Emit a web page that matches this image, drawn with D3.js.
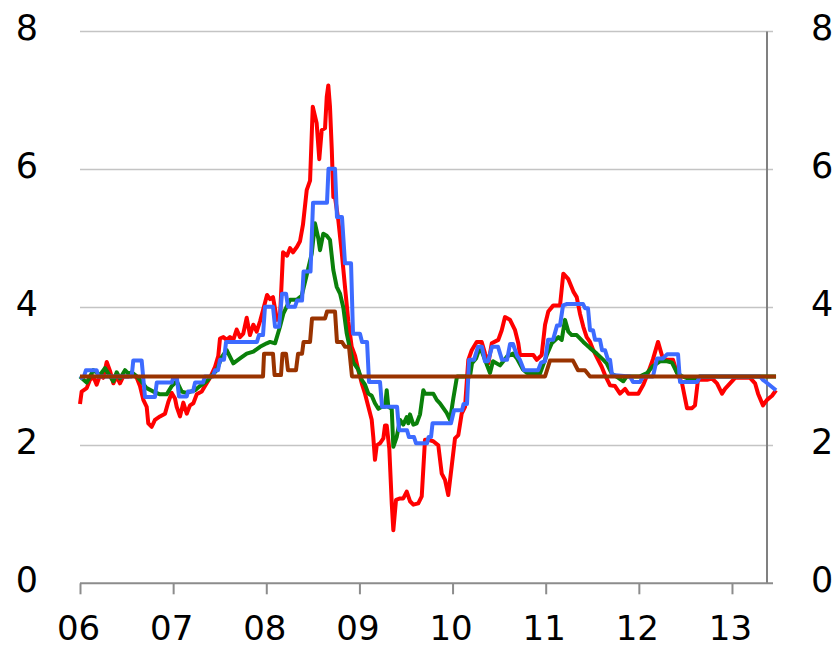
<!DOCTYPE html>
<html>
<head>
<meta charset="utf-8">
<script src="https://cdn.jsdelivr.net/npm/d3@7/dist/d3.min.js"></script>
<style>
  html, body { margin: 0; padding: 0; background: #ffffff; }
  svg { display: block; }
  text { font-family: "DejaVu Sans", Verdana, sans-serif; fill: #000; }
</style>
</head>
<body>
<svg id="chart" width="837" height="649"></svg>
<script>
// Axis ticks and labels
const yTicks = [0, 2, 4, 6, 8];
const yearTicks = [2006, 2007, 2008, 2009, 2010, 2011, 2012, 2013];
const yearLabels = ["06", "07", "08", "09", "10", "11", "12", "13"];

// Series: [decimal year, value]
const redSeries = [
  [2006.000,2.60],[2006.018,2.78],[2006.072,2.83],[2006.107,2.95],[2006.143,3.00],[2006.179,2.88],
  [2006.215,3.02],[2006.250,2.98],[2006.287,3.21],[2006.322,3.08],[2006.358,2.90],[2006.394,3.00],
  [2006.429,2.90],[2006.465,3.00],[2006.519,3.00],[2006.555,3.05],[2006.609,2.98],[2006.644,2.86],
  [2006.680,2.66],[2006.716,2.56],[2006.733,2.32],[2006.770,2.27],[2006.805,2.37],[2006.859,2.42],
  [2006.913,2.46],[2006.948,2.63],[2006.985,2.76],[2007.020,2.68],[2007.038,2.56],[2007.074,2.42],
  [2007.109,2.62],[2007.146,2.46],[2007.181,2.58],[2007.217,2.61],[2007.253,2.74],[2007.307,2.78],
  [2007.342,2.86],[2007.396,2.98],[2007.450,3.14],[2007.485,3.30],[2007.503,3.55],[2007.539,3.57],
  [2007.575,3.53],[2007.610,3.57],[2007.646,3.53],[2007.682,3.68],[2007.718,3.57],[2007.753,3.62],
  [2007.790,3.85],[2007.825,3.60],[2007.861,3.75],[2007.897,3.65],[2007.933,3.80],[2007.965,3.96],
  [2008.008,4.18],[2008.040,4.12],[2008.072,4.15],[2008.115,3.82],[2008.147,3.85],[2008.180,4.80],
  [2008.223,4.75],[2008.255,4.86],[2008.287,4.80],[2008.330,4.88],[2008.362,4.96],[2008.394,5.20],
  [2008.434,5.70],[2008.470,5.84],[2008.499,6.91],[2008.541,6.67],[2008.569,6.15],[2008.595,6.57],
  [2008.631,6.60],[2008.649,7.05],[2008.666,7.22],[2008.684,6.91],[2008.703,6.30],[2008.720,5.60],
  [2008.738,5.60],[2008.773,5.27],[2008.810,4.80],[2008.845,4.30],[2008.881,3.80],[2008.917,3.43],
  [2008.953,3.30],[2008.988,3.09],[2009.025,2.90],[2009.060,2.75],[2009.096,2.56],[2009.132,2.37],
  [2009.149,2.12],[2009.167,1.79],[2009.186,2.00],[2009.221,2.03],[2009.257,2.10],[2009.275,2.29],
  [2009.293,2.29],[2009.321,1.95],[2009.347,1.16],[2009.364,0.77],[2009.393,1.21],[2009.436,1.23],
  [2009.471,1.23],[2009.508,1.33],[2009.543,1.19],[2009.579,1.14],[2009.632,1.16],[2009.669,1.26],
  [2009.704,2.08],[2009.740,2.08],[2009.793,2.06],[2009.847,2.00],[2009.884,1.59],[2009.919,1.50],
  [2009.954,1.28],[2009.991,1.70],[2010.026,2.10],[2010.062,2.15],[2010.098,2.46],[2010.134,2.56],
  [2010.169,3.24],[2010.206,3.38],[2010.259,3.50],[2010.313,3.50],[2010.349,3.33],[2010.384,3.19],
  [2010.421,3.48],[2010.491,3.53],[2010.528,3.67],[2010.563,3.86],[2010.617,3.82],[2010.671,3.67],
  [2010.706,3.48],[2010.724,3.31],[2010.778,3.31],[2010.867,3.31],[2010.904,3.24],[2010.957,3.31],
  [2010.993,3.75],[2011.028,3.94],[2011.082,4.03],[2011.154,4.03],[2011.189,4.49],[2011.243,4.41],
  [2011.297,4.23],[2011.333,4.15],[2011.368,3.91],[2011.404,3.72],[2011.440,3.57],[2011.476,3.50],
  [2011.511,3.38],[2011.548,3.28],[2011.601,3.14],[2011.637,3.02],[2011.691,2.87],[2011.744,2.86],
  [2011.798,2.75],[2011.852,2.82],[2011.887,2.75],[2011.941,2.75],[2011.994,2.75],[2012.048,2.88],
  [2012.099,3.05],[2012.152,3.25],[2012.206,3.50],[2012.249,3.30],[2012.281,3.24],[2012.367,3.24],
  [2012.410,3.05],[2012.464,2.90],[2012.496,2.68],[2012.517,2.54],[2012.571,2.54],[2012.603,2.58],
  [2012.635,2.95],[2012.732,2.95],[2012.786,2.97],[2012.839,2.90],[2012.893,2.75],[2012.925,2.82],
  [2012.979,2.90],[2013.033,2.98],[2013.194,2.98],[2013.248,2.90],[2013.280,2.75],[2013.333,2.58],
  [2013.376,2.66],[2013.430,2.72],[2013.473,2.80]
];

const greenSeries = [
  [2006.000,3.00],[2006.072,2.91],[2006.143,3.09],[2006.215,3.02],[2006.268,3.12],[2006.322,3.00],
  [2006.358,2.93],[2006.394,3.06],[2006.429,2.97],[2006.483,3.09],[2006.519,3.04],[2006.555,3.06],
  [2006.609,3.00],[2006.644,2.95],[2006.716,2.83],[2006.787,2.78],[2006.859,2.74],[2006.931,2.74],
  [2006.985,2.86],[2007.038,2.93],[2007.092,2.78],[2007.146,2.76],[2007.235,2.80],[2007.288,2.86],
  [2007.360,2.93],[2007.414,3.01],[2007.468,3.09],[2007.521,3.28],[2007.575,3.38],[2007.646,3.19],
  [2007.718,3.26],[2007.790,3.33],[2007.861,3.36],[2007.933,3.43],[2008.005,3.48],[2008.040,3.50],
  [2008.094,3.48],[2008.147,3.72],[2008.183,3.91],[2008.255,4.11],[2008.327,4.11],[2008.380,4.17],
  [2008.434,4.47],[2008.488,4.78],[2008.523,5.22],[2008.559,5.00],[2008.577,4.83],[2008.612,5.07],
  [2008.649,5.04],[2008.684,4.98],[2008.720,4.54],[2008.756,4.30],[2008.792,4.20],[2008.827,4.00],
  [2008.864,3.62],[2008.899,3.40],[2008.935,3.20],[2008.988,3.10],[2009.025,2.95],[2009.060,2.88],
  [2009.096,2.75],[2009.132,2.72],[2009.167,2.61],[2009.203,2.53],[2009.239,2.56],[2009.275,2.56],
  [2009.293,2.80],[2009.310,2.56],[2009.347,2.53],[2009.364,1.98],[2009.400,2.12],[2009.436,2.37],
  [2009.471,2.30],[2009.508,2.41],[2009.525,2.32],[2009.543,2.45],[2009.579,2.30],[2009.615,2.32],
  [2009.651,2.45],[2009.686,2.80],[2009.704,2.75],[2009.740,2.75],[2009.793,2.75],[2009.830,2.66],
  [2009.865,2.61],[2009.901,2.54],[2009.937,2.47],[2009.973,2.37],[2010.008,2.68],[2010.048,3.00],
  [2010.187,3.00],[2010.209,3.19],[2010.252,3.26],[2010.295,3.43],[2010.348,3.24],[2010.402,3.05],
  [2010.434,3.22],[2010.510,3.16],[2010.585,3.29],[2010.649,3.33],[2010.692,3.26],[2010.756,3.10],
  [2010.799,3.05],[2010.939,3.04],[2011.011,3.31],[2011.065,3.48],[2011.136,3.57],[2011.172,3.53],
  [2011.207,3.82],[2011.243,3.65],[2011.279,3.60],[2011.333,3.60],[2011.404,3.50],[2011.476,3.41],
  [2011.548,3.33],[2011.619,3.24],[2011.655,3.19],[2011.709,3.04],[2011.780,2.98],[2011.833,2.93],
  [2011.870,3.00],[2012.013,3.00],[2012.088,3.05],[2012.152,3.15],[2012.227,3.22],[2012.303,3.22],
  [2012.356,3.20],[2012.410,3.05],[2012.464,3.00],[2012.571,2.95],[2012.657,3.00],[2013.473,3.00]
];

const blueSeries = [
  [2006.000,2.97],[2006.043,3.00],[2006.064,3.09],[2006.179,3.09],[2006.196,3.00],[2006.555,3.00],
  [2006.572,3.23],[2006.662,3.23],[2006.698,2.70],[2006.805,2.70],[2006.824,2.91],[2006.985,2.91],
  [2006.999,2.97],[2007.041,2.97],[2007.063,2.71],[2007.146,2.71],[2007.160,2.78],[2007.213,2.78],
  [2007.235,2.91],[2007.321,2.91],[2007.342,3.00],[2007.428,3.00],[2007.450,3.09],[2007.482,3.09],
  [2007.503,3.24],[2007.546,3.24],[2007.568,3.50],[2007.900,3.50],[2007.922,3.60],[2007.965,3.60],
  [2007.986,4.01],[2008.072,4.01],[2008.094,3.72],[2008.137,3.72],[2008.169,4.20],[2008.212,4.20],
  [2008.233,4.01],[2008.308,4.01],[2008.330,4.10],[2008.384,4.10],[2008.400,4.52],[2008.475,4.52],
  [2008.502,5.52],[2008.652,5.52],[2008.668,6.01],[2008.738,6.01],[2008.759,5.31],[2008.813,5.31],
  [2008.845,4.64],[2008.910,4.64],[2008.931,3.62],[2009.006,3.62],[2009.028,3.50],[2009.082,3.50],
  [2009.103,2.92],[2009.221,2.92],[2009.243,2.56],[2009.404,2.56],[2009.425,2.22],[2009.511,2.22],
  [2009.532,2.12],[2009.586,2.12],[2009.608,2.03],[2009.726,2.03],[2009.742,2.12],[2009.769,2.12],
  [2009.785,2.32],[2009.983,2.32],[2010.016,2.51],[2010.102,2.51],[2010.118,2.60],[2010.155,2.60],
  [2010.177,3.24],[2010.230,3.24],[2010.273,3.43],[2010.316,3.43],[2010.348,3.22],[2010.381,3.22],
  [2010.424,3.43],[2010.488,3.43],[2010.531,3.24],[2010.585,3.24],[2010.617,3.47],[2010.649,3.47],
  [2010.692,3.30],[2010.724,3.24],[2010.767,3.09],[2010.918,3.09],[2010.950,3.20],[2010.993,3.22],
  [2011.025,3.53],[2011.079,3.53],[2011.122,3.74],[2011.154,3.74],[2011.186,4.03],[2011.229,4.05],
  [2011.401,4.05],[2011.422,3.99],[2011.454,3.99],[2011.476,3.67],[2011.508,3.67],[2011.530,3.53],
  [2011.583,3.53],[2011.605,3.38],[2011.637,3.38],[2011.669,3.24],[2011.691,3.24],[2011.712,3.02],
  [2011.905,3.00],[2011.938,2.92],[2012.013,2.92],[2012.045,3.00],[2012.152,3.00],[2012.195,3.26],
  [2012.260,3.26],[2012.303,3.32],[2012.421,3.32],[2012.442,2.92],[2012.625,2.92],[2012.657,3.00],
  [2013.301,3.00],[2013.333,2.95],[2013.473,2.80]
];

const brownSeries = [
  [2006.000,3.00],[2007.965,3.00],[2007.976,3.33],[2008.072,3.33],[2008.089,3.02],[2008.158,3.02],
  [2008.174,3.33],[2008.212,3.33],[2008.233,3.09],[2008.319,3.09],[2008.341,3.33],[2008.384,3.33],
  [2008.400,3.50],[2008.470,3.50],[2008.491,3.84],[2008.631,3.84],[2008.652,3.94],[2008.738,3.94],
  [2008.759,3.50],[2008.813,3.50],[2008.845,3.43],[2008.888,3.43],[2008.920,3.00],[2010.993,3.00],
  [2011.046,3.23],[2011.293,3.23],[2011.347,3.09],[2011.422,3.09],[2011.476,3.00],[2013.473,3.00]
];

const series = [
  { data: redSeries,   color: "#ff0000" },
  { data: greenSeries, color: "#0a800a" },
  { data: blueSeries,  color: "#3d6bff" },
  { data: brownSeries, color: "#993300" }
];

const svg = d3.select("#chart");
const plotLeft = 80, plotRight = 767, plotTop = 31.6, plotBottom = 583.3;

const x = d3.scaleLinear().domain([2006, 2013.376]).range([plotLeft, plotRight]);
const y = d3.scaleLinear().domain([0, 8]).range([plotBottom, plotTop]);

// horizontal gridlines
svg.append("g")
  .selectAll("line")
  .data(yTicks.filter(d => d > 0))
  .join("line")
  .attr("x1", plotLeft).attr("x2", plotRight + 6)
  .attr("y1", d => y(d)).attr("y2", d => y(d))
  .attr("stroke", "#c4c4c4").attr("stroke-width", 1.5);

// right value axis line
svg.append("line")
  .attr("x1", plotRight).attr("x2", plotRight)
  .attr("y1", y(8)).attr("y2", y(0))
  .attr("stroke", "#808080").attr("stroke-width", 2);

// bottom axis
const xAxis = d3.axisBottom(x)
  .tickValues(yearTicks)
  .tickFormat((d, i) => yearLabels[i])
  .tickSize(11)
  .tickPadding(22);

const gx = svg.append("g")
  .attr("transform", `translate(0,${plotBottom})`)
  .call(xAxis);
gx.select(".domain").remove();
gx.selectAll(".tick line").attr("stroke", "#8c8c8c").attr("stroke-width", 2);
gx.selectAll(".tick text")
  .attr("font-family", "DejaVu Sans, Verdana, sans-serif")
  .attr("font-size", 34)
  .attr("fill", "#000")
  .attr("dx", -2);
gx.append("line")
  .attr("x1", plotLeft).attr("x2", plotRight + 6)
  .attr("y1", 0).attr("y2", 0)
  .attr("stroke", "#8c8c8c").attr("stroke-width", 2);

// value labels on both sides
const labelFont = 35;
svg.append("g")
  .selectAll("text")
  .data(yTicks)
  .join("text")
  .attr("x", 38)
  .attr("y", d => y(d) + 8.5)
  .attr("text-anchor", "end")
  .attr("font-size", labelFont)
  .text(d => d);

svg.append("g")
  .selectAll("text")
  .data(yTicks)
  .join("text")
  .attr("x", 811)
  .attr("y", d => y(d) + 8.5)
  .attr("text-anchor", "start")
  .attr("font-size", labelFont)
  .text(d => d);

// series lines
const line = d3.line()
  .x(d => x(d[0]))
  .y(d => y(d[1]));

svg.append("g")
  .selectAll("path")
  .data(series)
  .join("path")
  .attr("d", d => line(d.data))
  .attr("fill", "none")
  .attr("stroke", d => d.color)
  .attr("stroke-width", 4)
  .attr("stroke-linejoin", "round")
  .attr("stroke-linecap", "butt");
</script>
</body>
</html>
